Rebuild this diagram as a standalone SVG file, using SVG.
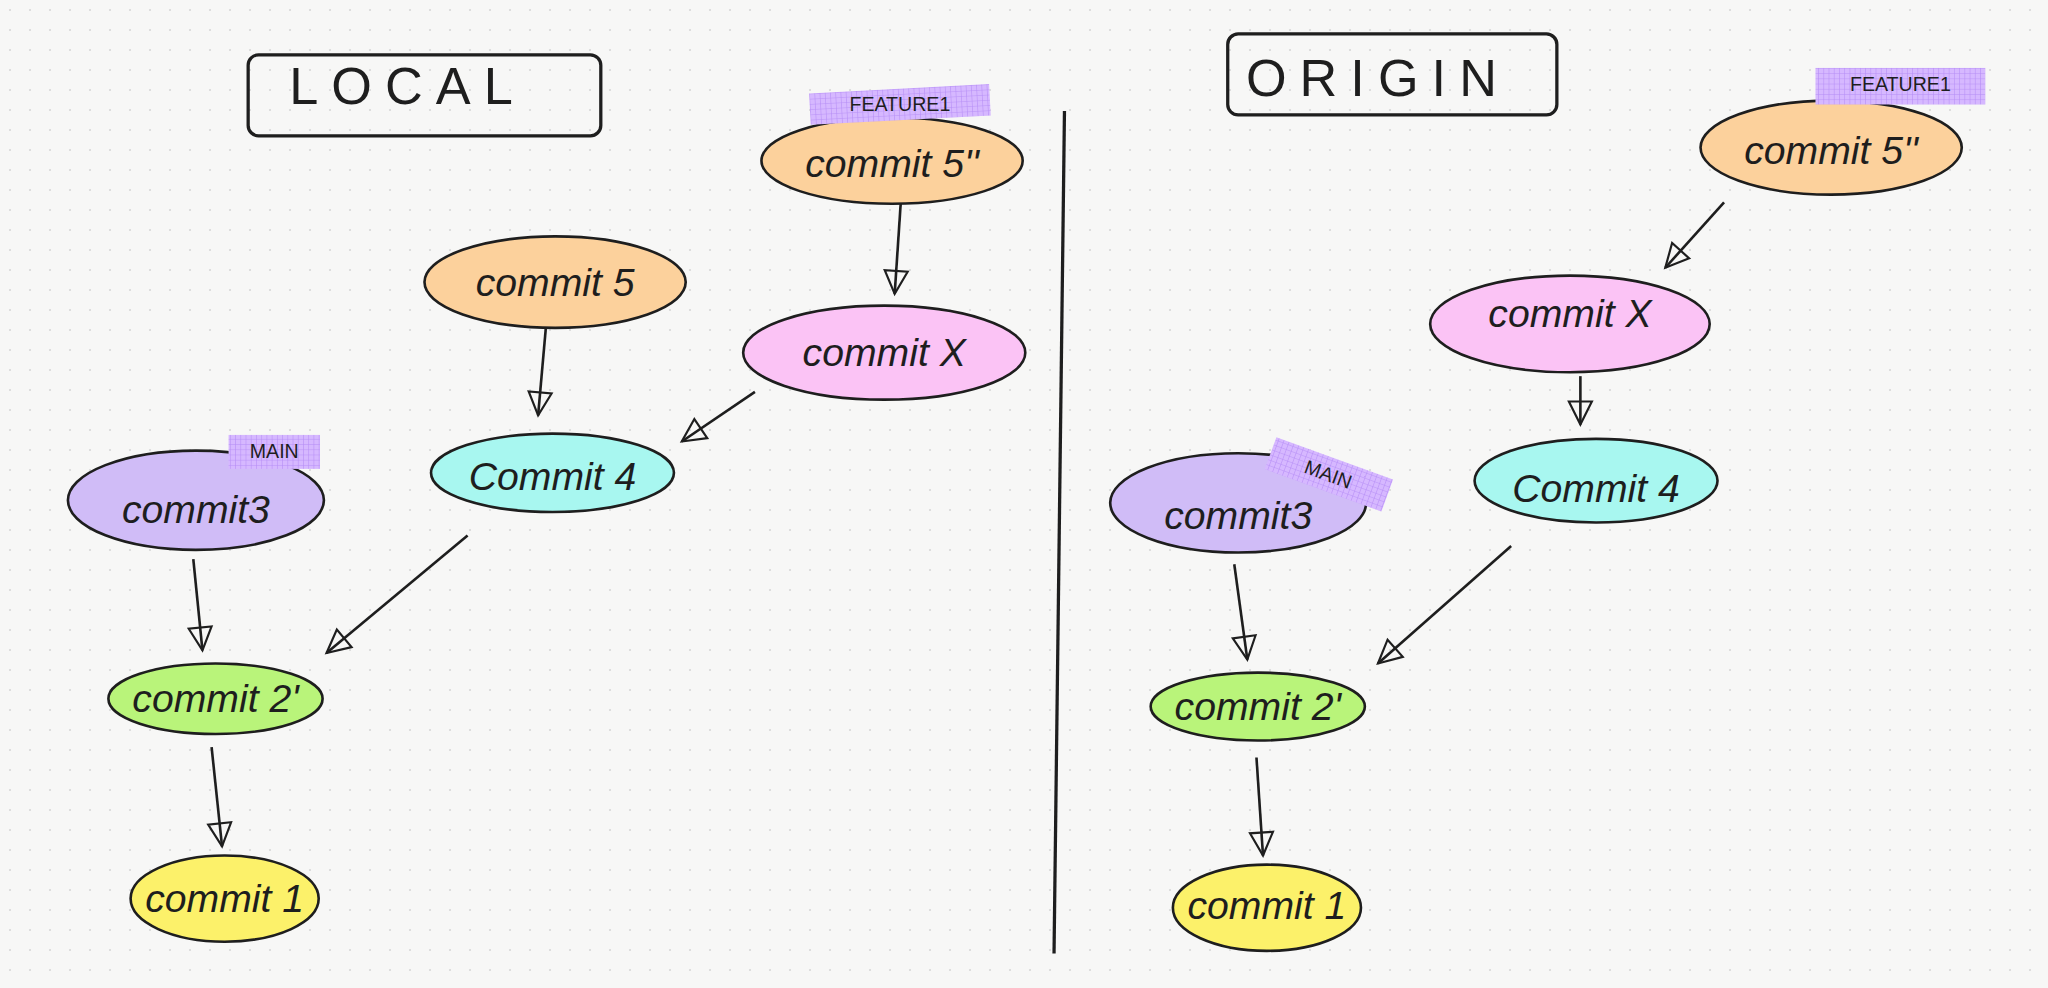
<svg xmlns="http://www.w3.org/2000/svg" width="2048" height="988" viewBox="0 0 2048 988">
<defs>
<pattern id="dots" width="20" height="20" patternUnits="userSpaceOnUse"><circle cx="10" cy="10" r="1" fill="#d4d4d4"/></pattern>
<pattern id="hatch" width="4" height="4" patternUnits="userSpaceOnUse"><rect width="4" height="4" fill="#d6b8ff"/><path d="M0 0H4M0 0V4" stroke="#b58cf5" stroke-width="0.8"/></pattern>
<marker id="ah" viewBox="0 0 20 20" refX="18" refY="10" markerWidth="22" markerHeight="22" markerUnits="userSpaceOnUse" orient="auto"><path d="M2 2 L18 10 L2 18 Z" fill="none" stroke="#1e1e1e" stroke-width="1.5"/></marker>
<style>
.n{stroke:#1e1e1e;stroke-width:2}
.t{font-family:"Liberation Sans",sans-serif;font-size:30px;fill:#1e1e1e;text-anchor:middle;dominant-baseline:central;font-style:italic}
.lb{font-family:"Liberation Sans",sans-serif;font-size:15px;fill:#1e1e1e;text-anchor:middle;dominant-baseline:central}
.c{stroke:#1e1e1e;stroke-width:2;fill:none;marker-end:url(#ah)}
.box{fill:none;stroke:#1e1e1e;stroke-width:2.5}
.h{font-family:"Liberation Sans",sans-serif;font-size:40px;fill:#1e1e1e;text-anchor:middle;dominant-baseline:central;letter-spacing:10px}
</style>
</defs>
<rect width="2048" height="988" fill="#f7f7f6"/>
<rect width="2048" height="988" fill="url(#dots)"/>
<g transform="scale(1.3061)">
<g id="title-local"><rect class="box" x="190" y="42" width="270" height="62" rx="8"/><text class="h" x="312" y="66">LOCAL</text></g>
<g id="title-origin"><rect class="box" x="940" y="26" width="252" height="62" rx="8"/><text class="h" x="1055" y="60">ORIGIN</text></g>
<path id="divider" d="M815 85 Q810 400 807 730" stroke="#1e1e1e" stroke-width="2.5" fill="none"/>
<g id="connectors">
<path class="c" d="M690 150 L685 225"/>
<path class="c" d="M418 250 L412 318"/>
<path class="c" d="M578 300 L522 338"/>
<path class="c" d="M148 428 L155 498"/>
<path class="c" d="M358 410 L250 500"/>
<path class="c" d="M162 572 L170 648"/>
<path class="c" d="M1320 155 L1275 205"/>
<path class="c" d="M1210 288 L1210 325"/>
<path class="c" d="M945 432 L955 505"/>
<path class="c" d="M1157 418 L1055 508"/>
<path class="c" d="M962 580 L967 655"/>
</g>
<g id="l-c5pp"><ellipse class="n" cx="683" cy="123" rx="100" ry="33" fill="#fcd19c"/><text class="t" x="683" y="125">commit 5''</text></g>
<g id="l-f1"><rect x="620" y="68" width="138" height="24" fill="url(#hatch)" transform="rotate(-3 689 80)"/><text class="lb" x="689" y="80">FEATURE1</text></g>
<g id="l-cx"><ellipse class="n" cx="677" cy="270" rx="108" ry="36" fill="#fbc3f5"/><text class="t" x="677" y="270">commit X</text></g>
<g id="l-c5"><ellipse class="n" cx="425" cy="216" rx="100" ry="35" fill="#fcd19c"/><text class="t" x="425" y="216">commit 5</text></g>
<g id="l-c4"><ellipse class="n" cx="423" cy="362" rx="93" ry="30" fill="#a8f7f0"/><text class="t" x="423" y="365">Commit 4</text></g>
<g id="l-c3"><ellipse class="n" cx="150" cy="383" rx="98" ry="38" fill="#d0bcf7"/><text class="t" x="150" y="390">commit3</text></g>
<g id="l-main"><rect x="175" y="333" width="70" height="26" fill="url(#hatch)"/><text class="lb" x="210" y="345">MAIN</text></g>
<g id="l-c2"><ellipse class="n" cx="165" cy="535" rx="82" ry="27" fill="#b9f47a"/><text class="t" x="165" y="535">commit 2'</text></g>
<g id="l-c1"><ellipse class="n" cx="172" cy="688" rx="72" ry="33" fill="#fcf16a"/><text class="t" x="172" y="688">commit 1</text></g>
<g id="o-c5pp"><ellipse class="n" cx="1402" cy="113" rx="100" ry="36" fill="#fcd19c"/><text class="t" x="1402" y="115">commit 5''</text></g>
<g id="o-f1"><rect x="1390" y="52" width="130" height="28" fill="url(#hatch)"/><text class="lb" x="1455" y="64">FEATURE1</text></g>
<g id="o-cx"><ellipse class="n" cx="1202" cy="248" rx="107" ry="37" fill="#fbc3f5"/><text class="t" x="1202" y="240">commit X</text></g>
<g id="o-c4"><ellipse class="n" cx="1222" cy="368" rx="93" ry="32" fill="#a8f7f0"/><text class="t" x="1222" y="374">Commit 4</text></g>
<g id="o-c3"><ellipse class="n" cx="948" cy="385" rx="98" ry="38" fill="#d0bcf7"/><text class="t" x="948" y="395">commit3</text></g>
<g id="o-main"><rect x="970" y="350" width="95" height="26" fill="url(#hatch)" transform="rotate(20 1017 363)"/><text class="lb" x="1017" y="363" transform="rotate(20 1017 363)">MAIN</text></g>
<g id="o-c2"><ellipse class="n" cx="963" cy="541" rx="82" ry="26" fill="#b9f47a"/><text class="t" x="963" y="541">commit 2'</text></g>
<g id="o-c1"><ellipse class="n" cx="970" cy="695" rx="72" ry="33" fill="#fcf16a"/><text class="t" x="970" y="693">commit 1</text></g>
</g>
</svg>
